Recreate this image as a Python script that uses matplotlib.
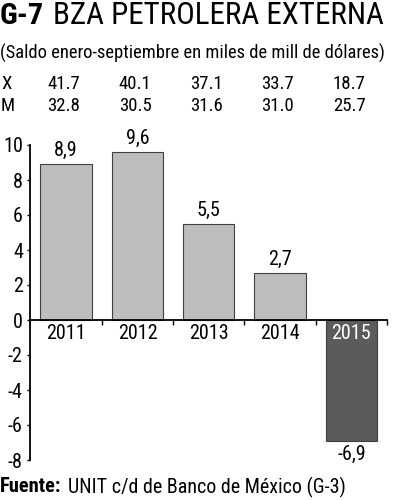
import matplotlib
matplotlib.use('Agg')
import matplotlib.pyplot as plt
import matplotlib.transforms as mtransforms

plt.rcParams['font.family'] = ['Roboto Condensed', 'DejaVu Sans']
plt.rcParams['font.stretch'] = 'condensed'

years = ['2011', '2012', '2013', '2014', '2015']
saldo = [8.9, 9.6, 5.5, 2.7, -6.9]
saldo_labels = ['8,9', '9,6', '5,5', '2,7', '-6,9']
exports = ['41.7', '40.1', '37.1', '33.7', '18.7']
imports = ['32.8', '30.5', '31.6', '31.0', '25.7']
yticks = [-8, -6, -4, -2, 0, 2, 4, 6, 8, 10]

W, H = 395, 500
fig = plt.figure(figsize=(W / 100, H / 100), dpi=100)
fig.patch.set_facecolor('white')
renderer = fig.canvas.get_renderer()


def fit_text(t, width_px):
    # shrink/grow the font so the text spans width_px pixels
    w = t.get_window_extent(renderer).width
    t.set_fontsize(t.get_fontsize() * width_px / w)
    return t


# axes placed in pixel terms
ax = fig.add_axes([30.5 / W, 40 / H, 356.5 / W, 315 / H])
x = list(range(len(years)))
colors = ['#bdbdbd'] * 4 + ['#5b5b5b']
ax.bar(x, saldo, width=0.72, color=colors, edgecolor='#404040', linewidth=0.8, zorder=1)

ax.set_xlim(-0.5, 4.5)
ax.set_ylim(-8, 10)
ax.set_yticks(yticks)
ax.set_yticklabels([str(v) for v in yticks], fontsize=14.5)
ax.tick_params(axis='y', length=2.5, width=1, pad=3)

ax.spines['top'].set_visible(False)
ax.spines['right'].set_visible(False)
ax.spines['bottom'].set_position(('data', 0))
ax.spines['left'].set_linewidth(1.3)
ax.spines['bottom'].set_linewidth(1.3)

ax.set_xticks(x)
ax.set_xticklabels(years, fontsize=14.5)
ax.tick_params(axis='x', length=0, pad=3)
ax.set_xticks([i + 0.5 for i in x], minor=True)
ax.tick_params(axis='x', which='minor', length=3.5, width=1, direction='out')
ax.get_xticklabels()[-1].set_color('white')
for lab in ax.get_xticklabels():
    lab.set_zorder(5)

for i, (v, lab) in enumerate(zip(saldo, saldo_labels)):
    if v >= 0:
        ax.annotate(lab, (i, v), xytext=(0, 3), textcoords='offset points',
                    ha='center', va='bottom', fontsize=14.5)
    else:
        ax.annotate(lab, (i, v), xytext=(0, -3), textcoords='offset points',
                    ha='center', va='top', fontsize=14.5)

# X / M table rows aligned with bars
trans = mtransforms.blended_transform_factory(ax.transData, fig.transFigure)
fig.text(1 / W, 1 - 84 / H, 'X', fontsize=13.5, va='center')
fig.text(1 / W, 1 - 106 / H, 'M', fontsize=13.5, va='center')
for i in x:
    fig.text(i - 0.03, 1 - 84 / H, exports[i], transform=trans, fontsize=13.5, ha='center', va='center')
    fig.text(i - 0.03, 1 - 106 / H, imports[i], transform=trans, fontsize=13.5, ha='center', va='center')

# titles
t1 = fig.text(0 / W, 1 - 16 / H, 'G-7', fontsize=25, fontweight='black', va='center')
fit_text(t1, 44)
t2 = fig.text(53 / W, 1 - 16 / H, 'BZA PETROLERA EXTERNA', fontsize=25, va='center')
fit_text(t2, 331)
t3 = fig.text(0 / W, 1 - 53 / H, '(Saldo enero-septiembre en miles de mill de dólares)',
              fontsize=13.5, va='center')
fit_text(t3, 384)

f1 = fig.text(0 / W, 1 - 487 / H, 'Fuente:', fontsize=14, fontweight='black', va='center')
fit_text(f1, 62)
f2 = fig.text(68 / W, 1 - 487 / H, 'UNIT c/d de Banco de México (G-3)', fontsize=14, va='center')
fit_text(f2, 279)

fig.savefig('out.png', dpi=100)
